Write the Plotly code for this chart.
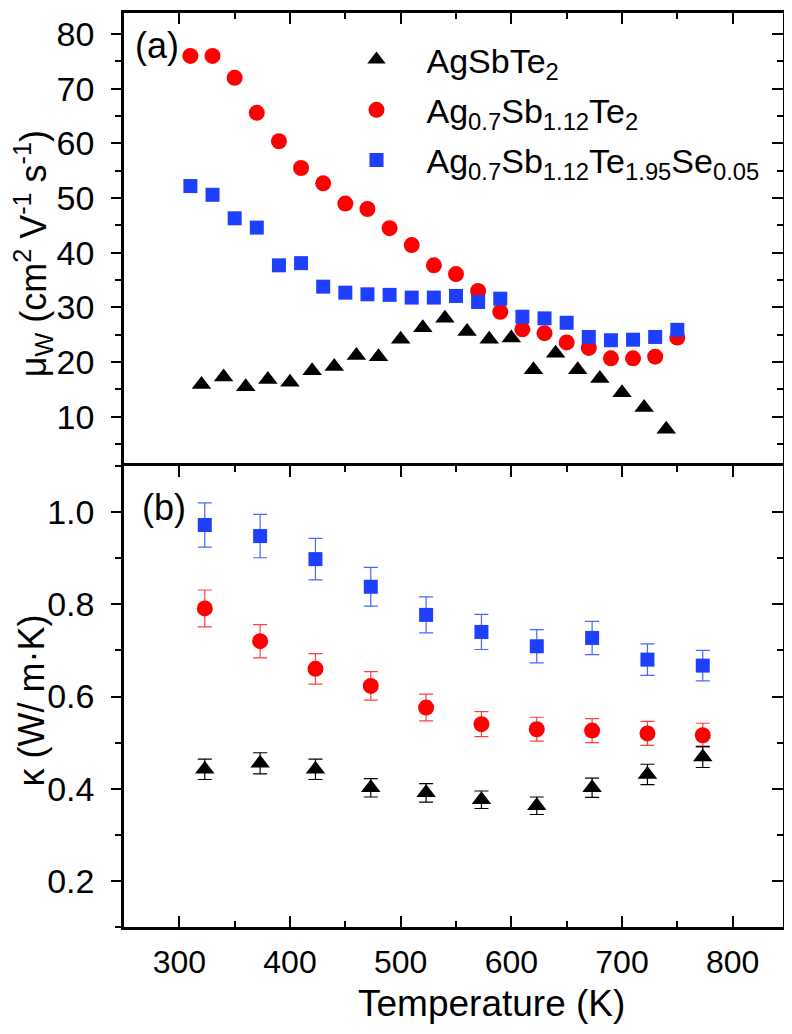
import plotly.graph_objects as go

# ---- panel (a): weighted mobility ----
t_agsbte2 = [320, 340, 360, 380, 400, 420, 440, 460, 480, 500, 520, 540, 560, 580,
             600, 620, 640, 660, 680, 700, 720, 740]
mu_agsbte2 = [15.9, 17.3, 15.5, 16.8, 16.3, 18.4, 19.2, 21.2, 21.0, 24.2, 26.3, 28.0,
              25.6, 24.2, 24.4, 18.6, 21.6, 18.6, 17.0, 14.4, 11.7, 7.7]

t_ag07 = [310, 330, 350, 370, 390, 410, 430, 450, 470, 490, 510, 530, 550, 570,
          590, 610, 630, 650, 670, 690, 710, 730, 750]
mu_ag07 = [76.0, 76.0, 72.0, 65.6, 60.4, 55.5, 52.7, 49.0, 48.0, 44.5, 41.4, 37.7,
           36.1, 33.0, 29.2, 26.0, 25.3, 23.6, 22.6, 20.7, 20.7, 21.0, 24.5]

t_se = [310, 330, 350, 370, 390, 410, 430, 450, 470, 490, 510, 530, 550, 570,
        590, 610, 630, 650, 670, 690, 710, 730, 750]
mu_se = [52.2, 50.6, 46.3, 44.6, 37.7, 38.1, 33.8, 32.7, 32.4, 32.3, 31.8, 31.8,
         32.1, 31.0, 31.6, 28.3, 28.0, 27.2, 24.6, 24.0, 24.1, 24.6, 25.9]

# ---- panel (b): thermal conductivity ----
t_kappa = [323, 373, 423, 473, 523, 573, 623, 673, 723, 773]
k_agsbte2 = [0.442, 0.455, 0.442, 0.402, 0.391, 0.376, 0.363, 0.402, 0.431, 0.469]
k_agsbte2_err = [0.022, 0.023, 0.022, 0.020, 0.020, 0.019, 0.019, 0.021, 0.022, 0.023]
k_ag07 = [0.791, 0.720, 0.660, 0.623, 0.576, 0.540, 0.529, 0.526, 0.520, 0.516]
k_ag07_err = [0.040, 0.036, 0.033, 0.031, 0.029, 0.027, 0.026, 0.026, 0.026, 0.026]
k_se = [0.972, 0.948, 0.898, 0.838, 0.777, 0.740, 0.709, 0.727, 0.680, 0.667]
k_se_err = [0.048, 0.047, 0.045, 0.042, 0.039, 0.038, 0.036, 0.036, 0.034, 0.033]

names = ["AgSbTe<sub>2</sub>",
         "Ag<sub>0.7</sub>Sb<sub>1.12</sub>Te<sub>2</sub>",
         "Ag<sub>0.7</sub>Sb<sub>1.12</sub>Te<sub>1.95</sub>Se<sub>0.05</sub>"]

BLACK, RED, BLUE = "#000000", "#ff0000", "#1f3fff"
FONT = "Liberation Sans, Arial, sans-serif"

fig = go.Figure()

# upper panel
fig.add_trace(go.Scatter(x=t_agsbte2, y=mu_agsbte2, mode="markers", name=names[0],
                         legendgroup="a",
                         marker=dict(symbol="triangle-up", size=17, color=BLACK),
                         xaxis="x2", yaxis="y2"))
fig.add_trace(go.Scatter(x=t_ag07, y=mu_ag07, mode="markers", name=names[1],
                         legendgroup="b",
                         marker=dict(symbol="circle", size=16, color=RED),
                         xaxis="x2", yaxis="y2"))
fig.add_trace(go.Scatter(x=t_se, y=mu_se, mode="markers", name=names[2],
                         legendgroup="c",
                         marker=dict(symbol="square", size=14, color=BLUE),
                         xaxis="x2", yaxis="y2"))

# lower panel
fig.add_trace(go.Scatter(x=t_kappa, y=k_se, mode="markers", showlegend=False,
                         marker=dict(symbol="square", size=14, color=BLUE),
                         error_y=dict(type="data", array=k_se_err, color="#4a66ff",
                                      thickness=1.2, width=7),
                         xaxis="x", yaxis="y"))
fig.add_trace(go.Scatter(x=t_kappa, y=k_ag07, mode="markers", showlegend=False,
                         marker=dict(symbol="circle", size=16, color=RED),
                         error_y=dict(type="data", array=k_ag07_err, color="#ff4040",
                                      thickness=1.2, width=7),
                         xaxis="x", yaxis="y"))
fig.add_trace(go.Scatter(x=t_kappa, y=k_agsbte2, mode="markers", showlegend=False,
                         marker=dict(symbol="triangle-up", size=17, color=BLACK),
                         error_y=dict(type="data", array=k_agsbte2_err, color=BLACK,
                                      thickness=1.2, width=7),
                         xaxis="x", yaxis="y"))

# right-hand y axes (inside ticks) on their own empty subplots
fig.add_trace(go.Scatter(x=[None], y=[None], xaxis="x3", yaxis="y3",
                         showlegend=False, hoverinfo="skip"))
fig.add_trace(go.Scatter(x=[None], y=[None], xaxis="x4", yaxis="y4",
                         showlegend=False, hoverinfo="skip"))

# figure sits 8 px in from the page corner (body margin)
W, H = 784, 1018
top, bottom, left, right = 5, 919, 116, 775
sep = 458
split = (bottom - sep) / (bottom - top)
x_range = [250, 845.5]
mu_range = [1, 83.85]
k_range = [0.1, 1.1]

common = dict(showgrid=False, zeroline=False, tickcolor="black", linecolor="black",
              tickwidth=2, linewidth=2.5)
xfont = dict(family=FONT, size=32, color="black")
yfont = dict(family=FONT, size=34, color="black")
hidden_x = dict(domain=[0, 1], range=x_range, visible=False, showgrid=False,
                zeroline=False)

fig.update_layout(
    width=W, height=H,
    margin=dict(l=left, r=W - right, t=top, b=H - bottom),
    paper_bgcolor="white", plot_bgcolor="rgba(0,0,0,0)",
    font=dict(family=FONT, color="black"),
    showlegend=True,
    legend=dict(x=0.3073, y=0.9803, xanchor="left", yanchor="top",
                font=dict(family=FONT, size=34), bgcolor="rgba(0,0,0,0)",
                itemwidth=90, traceorder="grouped", tracegroupgap=3),
    # lower panel
    xaxis=dict(domain=[0, 1], anchor="y", range=x_range, dtick=100, tick0=0,
               ticks="inside", ticklen=11, showline=True, mirror="ticks",
               ticklabelstandoff=5, tickfont=xfont,
               minor=dict(ticks="inside", ticklen=6, tickwidth=2, dtick=50, tick0=0),
               **common),
    yaxis=dict(domain=[0, split], anchor="x", range=k_range, dtick=0.2, tick0=0,
               tickformat=".1f", ticks="outside", ticklen=10, showline=True,
               mirror=True, ticklabelstandoff=10, tickfont=yfont,
               minor=dict(ticks="outside", ticklen=6, tickwidth=2, dtick=0.1, tick0=0),
               **common),
    xaxis3=dict(anchor="y3", **hidden_x),
    yaxis3=dict(domain=[0, split], anchor="x3", side="right", range=k_range,
                dtick=0.2, tick0=0, ticks="inside", ticklen=11, showticklabels=False,
                showline=True,
                minor=dict(ticks="inside", ticklen=6, tickwidth=2, dtick=0.1, tick0=0),
                **common),
    # upper panel
    xaxis2=dict(domain=[0, 1], anchor="y2", side="top", range=x_range, dtick=100,
                tick0=0, ticks="inside", ticklen=11, showticklabels=False,
                showline=True, mirror=False,
                minor=dict(ticks="inside", ticklen=6, tickwidth=2, dtick=50, tick0=0),
                **common),
    yaxis2=dict(domain=[split, 1], anchor="x2", range=mu_range, dtick=10, tick0=0,
                ticks="outside", ticklen=10, showline=True, mirror=True,
                ticklabelstandoff=10, tickfont=yfont,
                minor=dict(ticks="outside", ticklen=6, tickwidth=2, dtick=5, tick0=0),
                **common),
    xaxis4=dict(anchor="y4", **hidden_x),
    yaxis4=dict(domain=[split, 1], anchor="x4", side="right", range=mu_range, dtick=10,
                tick0=0, ticks="inside", ticklen=11, showticklabels=False,
                showline=True,
                minor=dict(ticks="inside", ticklen=6, tickwidth=2, dtick=5, tick0=0),
                **common),
)

fig.add_annotation(text="(a)", xref="paper", yref="paper", x=0.013, y=0.964,
                   xanchor="left", yanchor="middle", showarrow=False,
                   font=dict(family=FONT, size=36))
fig.add_annotation(text="(b)", xref="paper", yref="paper", x=0.024, y=0.4595,
                   xanchor="left", yanchor="middle", showarrow=False,
                   font=dict(family=FONT, size=36))
fig.add_annotation(text="μ<sub>W</sub> (cm<sup>2</sup> V<sup>-1</sup> s<sup>-1</sup>)",
                   xref="paper", yref="paper", x=-0.138, y=0.736, textangle=-90,
                   xanchor="center", yanchor="middle", showarrow=False,
                   font=dict(family=FONT, size=36))
fig.add_annotation(text="κ (W/ m·K)", xref="paper", yref="paper", x=-0.141, y=0.248,
                   textangle=-90, xanchor="center", yanchor="middle", showarrow=False,
                   font=dict(family=FONT, size=36))
fig.add_annotation(text="Temperature (K)", xref="paper", yref="paper", x=0.557, y=-0.084,
                   xanchor="center", yanchor="middle", showarrow=False,
                   font=dict(family=FONT, size=37))

fig.write_html("out.html")
